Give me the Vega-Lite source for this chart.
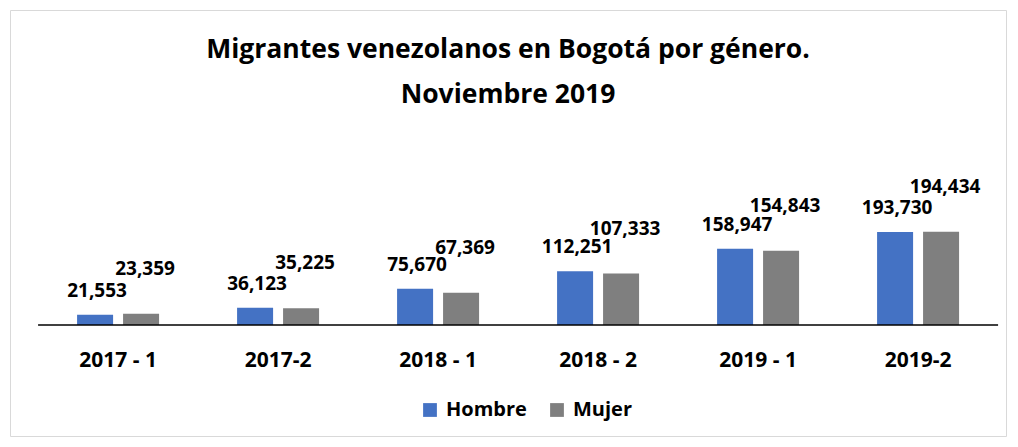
{
  "$schema": "https://vega.github.io/schema/vega-lite/v6.json",
  "width": 996,
  "height": 426,
  "autosize": "none",
  "padding": {"left": 10, "top": 10, "right": 12, "bottom": 11},
  "background": "white",
  "config": {"view": {"stroke": "#d9d9d9", "strokeWidth": 1}, "font": "Open Sans"},
  "title": {
    "text": ["Migrantes venezolanos en Bogotá por género.", "Noviembre 2019"],
    "fontSize": 26.5,
    "fontWeight": "bold",
    "font": "Open Sans",
    "color": "black",
    "offset": -98,
    "lineHeight": 45,
    "anchor": "middle"
  },
  "data": {
    "values": [
      {"periodo": "2017 - 1", "genero": "Hombre", "valor": 21553},
      {"periodo": "2017 - 1", "genero": "Mujer", "valor": 23359},
      {"periodo": "2017-2", "genero": "Hombre", "valor": 36123},
      {"periodo": "2017-2", "genero": "Mujer", "valor": 35225},
      {"periodo": "2018 - 1", "genero": "Hombre", "valor": 75670},
      {"periodo": "2018 - 1", "genero": "Mujer", "valor": 67369},
      {"periodo": "2018 - 2", "genero": "Hombre", "valor": 112251},
      {"periodo": "2018 - 2", "genero": "Mujer", "valor": 107333},
      {"periodo": "2019 - 1", "genero": "Hombre", "valor": 158947},
      {"periodo": "2019 - 1", "genero": "Mujer", "valor": 154843},
      {"periodo": "2019-2", "genero": "Hombre", "valor": 193730},
      {"periodo": "2019-2", "genero": "Mujer", "valor": 194434}
    ]
  },
  "layer": [
    {
      "mark": {"type": "bar"},
      "encoding": {
        "x": {
          "field": "periodo", "type": "nominal", "sort": null,
          "scale": {"paddingInner": 0, "paddingOuter": 0.1125, "align": 0.78},
          "axis": {
            "orient": "bottom", "offset": -111, "domain": false, "ticks": false,
            "labelFontSize": 21, "labelFontWeight": "bold", "labelColor": "black",
            "labelPadding": 24, "labelAngle": 0, "title": null, "labelFont": "Open Sans"
          }
        },
        "xOffset": {
          "field": "genero", "type": "nominal",
          "scale": {"paddingInner": 0.217, "paddingOuter": 0.848}
        },
        "y": {
          "field": "valor", "type": "quantitative",
          "scale": {"domain": [-231000, 656000], "nice": false, "zero": false},
          "axis": null
        },
        "y2": {"datum": 0},
        "color": {
          "field": "genero", "type": "nominal",
          "scale": {"domain": ["Hombre", "Mujer"], "range": ["#4472C4", "#7F7F7F"]},
          "legend": {
            "orient": "none", "legendX": 410, "legendY": 390, "direction": "horizontal",
            "title": null, "symbolType": "square", "symbolSize": 190, "symbolStrokeWidth": 0,
            "labelFontSize": 20, "labelFontWeight": "bold", "labelColor": "black",
            "labelFont": "Open Sans", "columnPadding": 20, "labelOffset": 6
          }
        }
      }
    },
    {
      "transform": [{"filter": "datum.genero === 'Hombre'"}],
      "mark": {"type": "text", "fontSize": 19, "fontWeight": "bold", "color": "black", "baseline": "middle", "dy": -24, "dx": 2, "font": "Open Sans"},
      "encoding": {
        "x": {"field": "periodo", "type": "nominal", "sort": null},
        "xOffset": {"field": "genero", "type": "nominal"},
        "y": {"field": "valor", "type": "quantitative"},
        "text": {"field": "valor", "type": "quantitative", "format": ",d"}
      }
    },
    {
      "transform": [{"filter": "datum.genero === 'Mujer'"}],
      "mark": {"type": "text", "fontSize": 19, "fontWeight": "bold", "color": "black", "baseline": "middle", "dy": -45, "dx": 4, "font": "Open Sans"},
      "encoding": {
        "x": {"field": "periodo", "type": "nominal", "sort": null},
        "xOffset": {"field": "genero", "type": "nominal"},
        "y": {"field": "valor", "type": "quantitative"},
        "text": {"field": "valor", "type": "quantitative", "format": ",d"}
      }
    },
    {
      "data": {"values": [{"a": 1}]},
      "mark": {"type": "rule", "color": "black", "strokeWidth": 1.5, "xOffset": -80, "x2Offset": 80},
      "encoding": {
        "x": {"datum": "2017 - 1"},
        "x2": {"datum": "2019-2"},
        "y": {"datum": 0}
      }
    }
  ]
}
